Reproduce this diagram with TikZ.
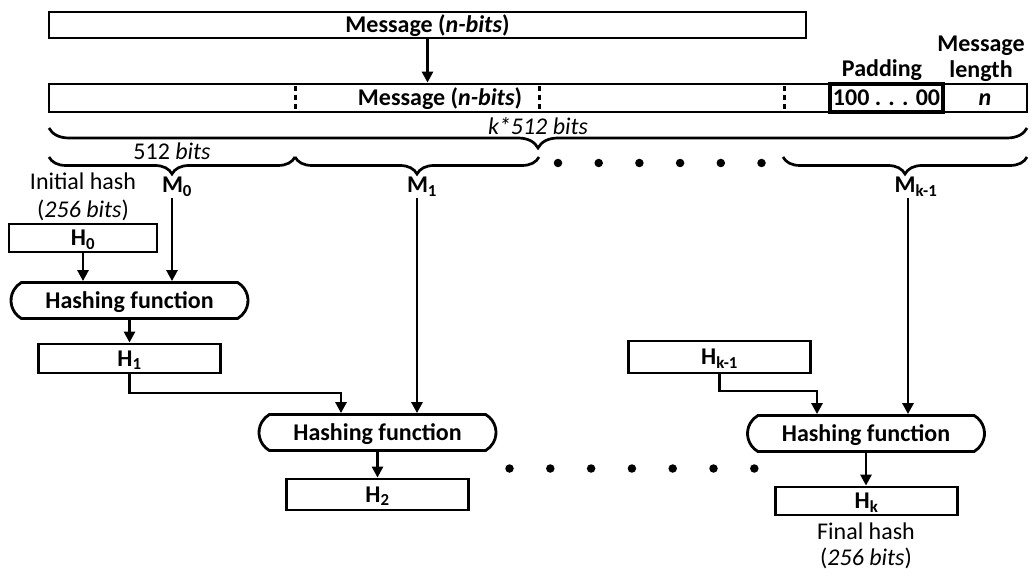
\documentclass[tikz,border=0pt]{standalone}
\usepackage{fontspec}
\setmainfont{Carlito}
\usetikzlibrary{arrows.meta,decorations.pathreplacing,shapes.misc}
\newcommand\myfs{\fontsize{24}{28}\selectfont}
\tikzset{
  box/.style={draw, line width=2.8pt, rectangle, inner sep=0pt, font=\myfs\bfseries, text height=15.5pt, text depth=0pt},
  hbox/.style={box, minimum width=182pt, minimum height=30pt},
  hashfn/.style={draw, line width=2.8pt, rounded rectangle, rounded rectangle arc length=120, minimum width=237pt, minimum height=36pt, inner sep=0pt, font=\myfs\bfseries, text height=15.5pt, text depth=0pt},
  arr/.style={line width=2.7pt, -{Triangle[length=11pt,width=11pt]}},
  brc/.style={decorate, decoration={brace, mirror, amplitude=17pt}, line width=2.7pt},
  lab/.style={inner sep=0pt, font=\myfs},
  blab/.style={inner sep=0pt, font=\myfs\bfseries},
  dotn/.style={circle, fill, inner sep=0pt, minimum size=8.5pt},
  divider/.style={line width=3pt, dash pattern=on 5pt off 4pt},
}
\begin{document}
\begin{tikzpicture}[x=1pt,y=-1pt]
\useasboundingbox (0,0) rectangle (1032,569);
% message boxes
\node[box, minimum width=757pt, minimum height=26pt] (top) at (427.5,25) {Message (\textit{n-bits})};
\node[box, minimum width=978pt, minimum height=28pt] (row) at (538,98) {};
\node[box, line width=3.2pt, minimum width=113pt, minimum height=28pt] (pad) at (886.5,98) {100 . . . 00};
\node[box, minimum width=84pt, minimum height=28pt] (len) at (985,98) {\textit{n}};
\node[blab, text height=15.5pt, text depth=0pt] (rowtxt) at (440,98) {Message (\textit{n-bits})};
\foreach \x in {295,539,784} \draw[divider] (\x,86) -- (\x,111);
\node[blab, anchor=base] (padlbl) at (882,77) {Padding};
\node[blab, anchor=base] (lenlbl1) at (981,52) {Message};
\node[blab, anchor=base] (lenlbl2) at (981,78) {length};
\draw[arr] (top.south) -- (top.south |- row.north);
% braces
\draw[brc, decoration={amplitude=20pt}] (49,128) -- (1027,128);
\node[lab, anchor=base] (bigtxt) at (538,135) {\textit{k*512 bits}};
\draw[brc] (49,157) -- (295,157);
\draw[brc] (295,157) -- (539,157);
\draw[brc] (783,157) -- (1027,157);
\node[lab, anchor=base] (t512) at (172,160) {512 \textit{bits}};
\foreach \i in {0,...,5} \node[dotn] (td\i) at (558+40.7*\i,163) {};
% block labels
\node[blab, anchor=base] (M0) at (177,193) {M\textsubscript{0}};
\node[blab, anchor=base] (M1) at (422,193) {M\textsubscript{1}};
\node[blab, anchor=base] (Mk) at (916,193) {M\textsubscript{k-1}};
\coordinate (m0s) at (172,198);
\coordinate (m1s) at (417,198);
\coordinate (mks) at (908,198);
\node[lab, anchor=base] (init1) at (83,190) {Initial hash};
\node[lab, anchor=base] (init2) at (83,218) {(\textit{256 bits})};
% chain
\node[box, minimum width=148pt, minimum height=28pt] (H0) at (83,238) {H\textsubscript{0}};
\node[hashfn] (F1) at (129.5,300.5) {Hashing function};
\node[hbox, minimum height=29pt] (H1) at (129.5,358.5) {H\textsubscript{1}};
\node[hashfn] (F2) at (377.5,432.5) {Hashing function};
\node[hbox, minimum height=31pt] (H2) at (377.5,494.5) {H\textsubscript{2}};
\node[hbox, minimum height=32pt] (Hk1) at (719.5,357) {H\textsubscript{k-1}};
\node[hashfn] (F3) at (866,433.5) {Hashing function};
\node[hbox, minimum height=28pt] (Hk) at (866.5,501) {H\textsubscript{k}};
\node[lab, anchor=base] (fin1) at (866,539) {Final hash};
\node[lab, anchor=base] (fin2) at (866,565) {(\textit{256 bits})};
\foreach \i in {0,...,6} \node[dotn] (bd\i) at (509.5+40.8*\i,468.5) {};
% connectors
\draw[arr] (H0.south) -- (H0.south |- F1.north);
\draw[arr] (m0s) -- (m0s |- F1.north);
\draw[arr] (F1.south) -- (F1.south |- H1.north);
\coordinate (j1) at (341,393);
\draw[arr] (H1.south) |- (j1) -- (j1 |- F2.north);
\draw[arr] (m1s) -- (m1s |- F2.north);
\draw[arr] (F2.south) -- (F2.south |- H2.north);
\coordinate (j2) at (817,391);
\draw[arr] (Hk1.south) |- (j2) -- (j2 |- F3.north);
\draw[arr] (mks) -- (mks |- F3.north);
\draw[arr] (F3.south) -- (F3.south |- Hk.north);
\end{tikzpicture}
\end{document}
